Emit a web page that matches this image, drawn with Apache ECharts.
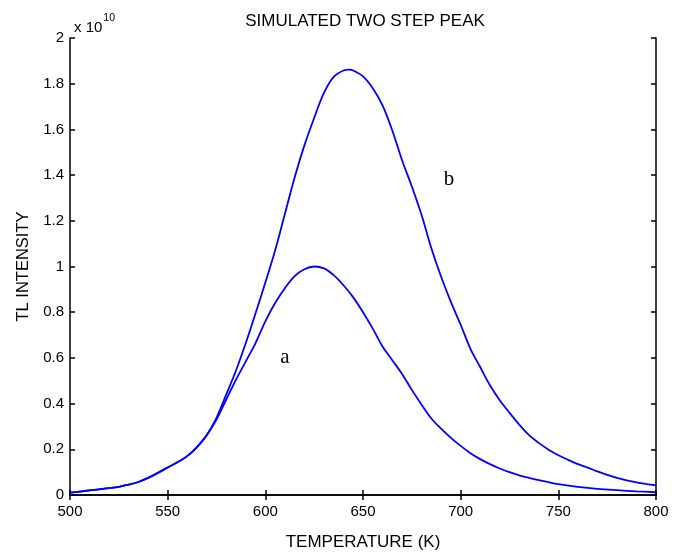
<!DOCTYPE html>
<html>
<head>
<meta charset="utf-8">
<script src="https://cdn.jsdelivr.net/npm/echarts@6/dist/echarts.min.js"></script>
<style>html,body{margin:0;padding:0;background:#fff}#c{width:683px;height:556px}</style>
</head>
<body>
<div id="c"></div>
<script>
// Temperature (K)
const tempA = [500,505,510,515,520,525,530,535,540,545,550,555,560,565,570,575,580,585,590,595,600,605,610,615,620,625,630,635,640,645,650,655,660,665,670,675,680,685,690,695,700,705,710,715,720,725,730,735,740,745,750,760,770,780,790,800];
// Curve a, TL intensity (x 10^10)
const valA = [0.010,0.015,0.020,0.025,0.030,0.036,0.045,0.057,0.075,0.097,0.120,0.143,0.170,0.210,0.262,0.330,0.418,0.505,0.585,0.665,0.760,0.840,0.905,0.958,0.988,1.000,0.992,0.962,0.918,0.865,0.800,0.728,0.650,0.590,0.530,0.460,0.395,0.335,0.290,0.250,0.215,0.183,0.157,0.135,0.116,0.100,0.086,0.075,0.065,0.056,0.048,0.036,0.027,0.021,0.016,0.012];
const tempB = [500,505,510,515,520,525,530,535,540,545,550,555,560,565,570,575,580,585,590,595,600,605,610,615,620,625,630,635,640,643,645,650,655,660,665,670,675,680,685,690,695,700,705,710,715,720,725,730,735,740,745,750,755,760,765,770,775,780,785,790,795,800];
// Curve b, TL intensity (x 10^10)
const valB = [0.010,0.015,0.020,0.025,0.030,0.036,0.045,0.057,0.075,0.097,0.120,0.143,0.170,0.210,0.262,0.338,0.440,0.545,0.665,0.795,0.930,1.070,1.230,1.390,1.530,1.650,1.760,1.830,1.858,1.862,1.858,1.832,1.780,1.705,1.595,1.465,1.350,1.225,1.080,0.955,0.845,0.745,0.640,0.560,0.480,0.415,0.360,0.308,0.262,0.228,0.198,0.174,0.154,0.135,0.120,0.103,0.088,0.075,0.064,0.055,0.048,0.042];
const xTicks = [500,550,600,650,700,750,800];
const labelA = {name:'a', coord:[610,0.60]};
const labelB = {name:'b', coord:[694,1.38]};

const chart = echarts.init(document.getElementById('c'), null, {renderer:'canvas'});
const dataA = tempA.map((t,i)=>[t,valA[i]]);
const dataB = tempB.map((t,i)=>[t,valB[i]]);
const FONT = 'Liberation Sans, Arial, sans-serif';
const axLine = {show:true, lineStyle:{color:'#000', width:1.5}};
const axTick = {show:true, inside:true, length:5, lineStyle:{color:'#000', width:1.5}};
const lblStyle = {color:'#000', fontFamily:FONT, fontSize:15};
function mark(l){
  return {symbol:'rect', symbolSize:1, itemStyle:{color:'rgba(0,0,0,0)'},
    data:[{coord:l.coord, value:l.name}],
    label:{show:true, position:'inside', formatter:l.name, color:'#000', fontFamily:'Liberation Serif, Times New Roman, serif', fontSize:21}};
}
chart.setOption({
  animation:false,
  backgroundColor:'#fff',
  title:[
    {text:'SIMULATED TWO STEP PEAK', left:360, textAlign:'center', top:8,
     textStyle:{fontFamily:FONT, fontSize:17, fontWeight:'normal', color:'#000'}},
    {text:'{a|x 10}{b|10}', left:69, top:8,
     textStyle:{fontWeight:'normal', rich:{a:{fontFamily:FONT, fontSize:15, fontWeight:'normal', color:'#000', verticalAlign:'bottom', lineHeight:22},
                      b:{fontFamily:FONT, fontSize:10.5, fontWeight:'normal', color:'#000', verticalAlign:'top', lineHeight:22, padding:[0,0,10,1]}}}}
  ],
  grid:{left:70, right:27, top:38, bottom:58, containLabel:false},
  xAxis:[
    {type:'value', min:xTicks[0], max:xTicks[xTicks.length-1], interval:50, position:'bottom',
     name:'TEMPERATURE (K)', nameLocation:'middle', nameGap:39,
     nameTextStyle:{fontFamily:FONT, fontSize:17, color:'#000'},
     axisLine:axLine, axisTick:axTick, splitLine:{show:false},
     axisLabel:Object.assign({margin:9}, lblStyle)},
    {type:'value', min:xTicks[0], max:xTicks[xTicks.length-1], interval:50, position:'top',
     axisLine:axLine, axisTick:axTick, splitLine:{show:false}, axisLabel:{show:false}}
  ],
  yAxis:[
    {type:'value', min:0, max:2, interval:0.2, position:'left',
     name:'TL INTENSITY', nameLocation:'middle', nameGap:38,
     nameTextStyle:{fontFamily:FONT, fontSize:16.5, color:'#000'},
     axisLine:axLine, axisTick:axTick, splitLine:{show:false},
     axisLabel:Object.assign({margin:6, formatter:v=>String(Math.round(v*10)/10)}, lblStyle)},
    {type:'value', min:0, max:2, interval:0.2, position:'right',
     axisLine:axLine, axisTick:axTick, splitLine:{show:false}, axisLabel:{show:false}}
  ],
  series:[
    {type:'line', name:'a', data:dataA, showSymbol:false, smooth:0.35, lineStyle:{color:'#0000ff', width:1.8}, itemStyle:{color:'#0000ff'}, markPoint:mark(labelA), z:3},
    {type:'line', name:'b', data:dataB, showSymbol:false, smooth:0.35, lineStyle:{color:'#0000ff', width:1.8}, itemStyle:{color:'#0000ff'}, markPoint:mark(labelB), z:3}
  ]
});
</script>
</body>
</html>
